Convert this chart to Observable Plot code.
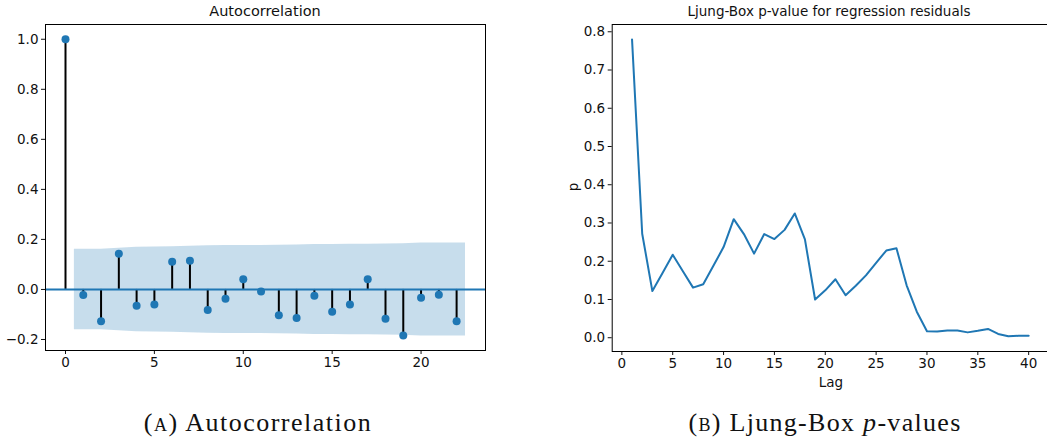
<!DOCTYPE html>
<html>
<head>
<meta charset="utf-8">
<script src="https://cdn.jsdelivr.net/npm/d3@7"></script>
<script src="https://cdn.jsdelivr.net/npm/@observablehq/plot@0.6"></script>
<style>
  body { margin: 0; background: white; }
  #wrap { position: relative; width: 1047px; height: 440px; background: white; overflow: hidden; }
  .abs { position: absolute; }
  .title { font-family: "DejaVu Sans", sans-serif; font-size: 13.5px; color: #111; white-space: nowrap; transform: translate(-50%, -50%); }
  .cap { font-family: "Liberation Serif", serif; font-size: 26px; color: #111; white-space: nowrap; transform: translate(-50%, -50%); }
  .sc { font-variant: small-caps; }
</style>
</head>
<body>
<div id="wrap"></div>
<script>
// ---- Data: autocorrelation (panel A) ----
const acfLags = [0,1,2,3,4,5,6,7,8,9,10,11,12,13,14,15,16,17,18,19,20,21,22];
const acfValues = [1.0,-0.022,-0.127,0.143,-0.065,-0.060,0.111,0.115,-0.082,-0.037,0.041,-0.008,-0.103,-0.114,-0.025,-0.089,-0.060,0.041,-0.117,-0.184,-0.033,-0.021,-0.127];
// confidence band half-width (shaded region), x positions of its vertices
const bandLags = [0.5,2,3,4,5,6,7,8,9,10,11,12,13,14,15,16,17,18,19,20,21,22.5];
const bandHalfWidth = [0.161,0.161,0.165,0.169,0.170,0.171,0.173,0.175,0.176,0.176,0.176,0.177,0.178,0.180,0.180,0.181,0.181,0.182,0.183,0.186,0.186,0.186];
const acfXTicks = [0,5,10,15,20];
const acfYTicks = [-0.2,0.0,0.2,0.4,0.6,0.8,1.0];

// ---- Data: Ljung-Box p-values (panel B) ----
const lbLags = d3.range(1, 41);
const lbPValues = [0.780,0.272,0.122,0.169,0.217,0.174,0.131,0.140,0.188,0.237,
                   0.310,0.271,0.220,0.271,0.258,0.282,0.325,0.257,0.100,0.124,
                   0.153,0.111,0.136,0.163,0.196,0.228,0.234,0.137,0.068,0.017,
                   0.016,0.019,0.019,0.014,0.018,0.023,0.010,0.004,0.005,0.005];
const lbXTicks = [0,5,10,15,20,25,30,35,40];
const lbYTicks = [0.0,0.1,0.2,0.3,0.4,0.5,0.6,0.7,0.8];

const blue = "#1f77b4";
const wrap = document.getElementById("wrap");
const baseStyle = {fontFamily: "DejaVu Sans, sans-serif", fontSize: "13.5px", color: "#111", background: "white", overflow: "visible"};

const acf = acfLags.map((l, i) => ({lag: l, v: acfValues[i]}));
const band = bandLags.map((l, i) => ({lag: l, hw: bandHalfWidth[i]}));

const left = Plot.plot({
  width: 500, height: 375,
  marginLeft: 45, marginRight: 15, marginTop: 24, marginBottom: 25,
  style: baseStyle,
  x: {domain: [-1.125, 23.625], ticks: acfXTicks, tickFormat: d3.format("d"), tickSize: 4, tickPadding: 3, label: null},
  y: {domain: [-0.244, 1.059], ticks: acfYTicks, tickFormat: d3.format(".1f"), tickSize: 4, tickPadding: 3, label: null},
  marks: [
    Plot.areaY(band, {x: "lag", y1: d => -d.hw, y2: "hw", fill: blue, fillOpacity: 0.25}),
    Plot.ruleX(acf, {x: "lag", y1: 0, y2: "v", stroke: "black", strokeWidth: 2}),
    Plot.ruleY([0], {stroke: blue, strokeWidth: 2}),
    Plot.dot(acf, {x: "lag", y: "v", r: 4, fill: blue, stroke: "none"}),
    Plot.frame({stroke: "black", strokeWidth: 1})
  ]
});
left.classList.add("abs");
left.style.left = "0px"; left.style.top = "0px";
wrap.appendChild(left);

const lb = lbLags.map((l, i) => ({lag: l, p: lbPValues[i]}));
const right = Plot.plot({
  width: 528, height: 375,
  marginLeft: 91.7, marginRight: 0, marginTop: 24, marginBottom: 24,
  style: baseStyle,
  x: {domain: [-0.95, 41.95], ticks: lbXTicks, tickFormat: d3.format("d"), tickSize: 4, tickPadding: 3, label: null},
  y: {domain: [-0.036, 0.819], ticks: lbYTicks, tickFormat: d3.format(".1f"), tickSize: 4, tickPadding: 3, label: null},
  marks: [
    Plot.line(lb, {x: "lag", y: "p", stroke: blue, strokeWidth: 2}),
    Plot.frame({stroke: "black", strokeWidth: 1})
  ]
});
right.classList.add("abs");
right.style.left = "520px"; right.style.top = "0px";
wrap.appendChild(right);

function addText(cls, html, x, y, opts = {}) {
  const d = document.createElement("div");
  d.className = "abs " + cls;
  d.innerHTML = html;
  d.style.left = x + "px"; d.style.top = y + "px";
  if (opts.rotate) d.style.transform = "translate(-50%, -50%) rotate(-90deg)";
  if (opts.size) d.style.fontSize = opts.size;
  if (opts.spacing) d.style.letterSpacing = opts.spacing;
  wrap.appendChild(d);
}
addText("title", "Autocorrelation", 265, 11, {size: "14.5px"});
addText("title", "Ljung-Box p-value for regression residuals", 829, 11);
addText("title", "p", 573, 187, {rotate: true});
addText("title", "Lag", 831, 382);
addText("cap", "(<span class='sc'>a</span>) Autocorrelation", 258, 423, {spacing: "1.5px"});
addText("cap", "(<span class='sc'>b</span>) Ljung-Box <i>p</i>-values", 825, 423, {spacing: "1.3px"});
</script>
</body>
</html>
